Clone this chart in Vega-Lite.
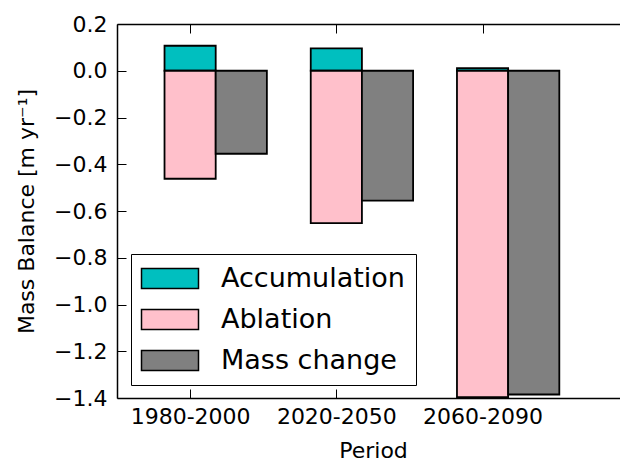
{
  "$schema": "https://vega.github.io/schema/vega-lite/v6.json",
  "width": 503,
  "height": 374,
  "autosize": {"type": "none"},
  "padding": {"left": 117, "top": 24, "right": 0, "bottom": 63},
  "config": {
    "view": {"stroke": null},
    "font": "DejaVu Sans",
    "axis": {
      "grid": false,
      "domainColor": "black",
      "domainWidth": 1.5,
      "tickColor": "black",
      "tickWidth": 1,
      "tickSize": -9,
      "labelColor": "black",
      "labelFont": "DejaVu Sans",
      "labelFontSize": 22,
      "titleColor": "black",
      "titleFont": "DejaVu Sans",
      "titleFontSize": 22,
      "titleFontWeight": "normal"
    }
  },
  "data": {
    "values": [
      {"period": "1980-2000", "idx": 0, "series": "Accumulation", "slot": 0, "value": 0.107},
      {"period": "1980-2000", "idx": 0, "series": "Ablation", "slot": 0, "value": -0.462},
      {"period": "1980-2000", "idx": 0, "series": "Mass change", "slot": 1, "value": -0.355},
      {"period": "2020-2050", "idx": 1, "series": "Accumulation", "slot": 0, "value": 0.096},
      {"period": "2020-2050", "idx": 1, "series": "Ablation", "slot": 0, "value": -0.652},
      {"period": "2020-2050", "idx": 1, "series": "Mass change", "slot": 1, "value": -0.556},
      {"period": "2060-2090", "idx": 2, "series": "Accumulation", "slot": 0, "value": 0.011},
      {"period": "2060-2090", "idx": 2, "series": "Ablation", "slot": 0, "value": -1.396},
      {"period": "2060-2090", "idx": 2, "series": "Mass change", "slot": 1, "value": -1.385}
    ]
  },
  "transform": [
    {"calculate": "datum.idx - 0.175 + 0.35 * datum.slot", "as": "x0"},
    {"calculate": "datum.x0 + 0.35", "as": "x1"}
  ],
  "resolve": {"axis": {"x": "independent"}},
  "layer": [
    {
      "mark": {"type": "bar", "stroke": "black", "strokeWidth": 1.8, "opacity": 1},
      "encoding": {
        "x": {
          "field": "x0",
          "type": "quantitative",
          "scale": {"domain": [-0.5, 2.94], "nice": false, "zero": false},
          "axis": {
            "orient": "bottom",
            "values": [0, 1, 2],
            "labelExpr": "datum.value == 0 ? '1980-2000' : datum.value == 1 ? '2020-2050' : '2060-2090'",
            "labelPadding": 17,
            "title": "Period",
            "titleX": 256,
            "titlePadding": 13
          }
        },
        "x2": {"field": "x1"},
        "y": {
          "field": "value",
          "type": "quantitative",
          "scale": {"domain": [-1.4, 0.2], "nice": false},
          "axis": {
            "values": [-1.4, -1.2, -1.0, -0.8, -0.6, -0.4, -0.2, 0, 0.2],
            "format": ".1f",
            "labelPadding": 19,
            "title": "Mass Balance [m yr⁻¹]",
            "titlePadding": 15
          }
        },
        "y2": {"datum": 0},
        "color": {
          "field": "series",
          "type": "nominal",
          "scale": {
            "domain": ["Accumulation", "Ablation", "Mass change"],
            "range": ["#00BFBF", "#FFC0CB", "#808080"]
          },
          "legend": {
            "orient": "none",
            "legendX": 14,
            "legendY": 230,
            "title": null,
            "symbolType": "M-1.4,-1L4.3,-1L4.3,1L-1.4,1Z",
            "symbolSize": 400,
            "symbolStrokeColor": "black",
            "symbolStrokeWidth": 1.5,
            "symbolOpacity": 1,
            "labelFont": "DejaVu Sans",
            "labelFontSize": 27,
            "labelColor": "black",
            "labelLimit": 400,
            "labelOffset": 52,
            "rowPadding": 13,
            "padding": 11,
            "strokeColor": "black",
            "fillColor": "white",
            "cornerRadius": 0
          }
        },
        "order": {"field": "slot", "type": "quantitative"}
      }
    },
    {
      "mark": {"type": "tick", "opacity": 0},
      "encoding": {
        "x": {
          "field": "x0",
          "type": "quantitative",
          "axis": {
            "orient": "top",
            "values": [0, 1, 2],
            "labels": false,
            "title": null
          }
        }
      }
    }
  ]
}
